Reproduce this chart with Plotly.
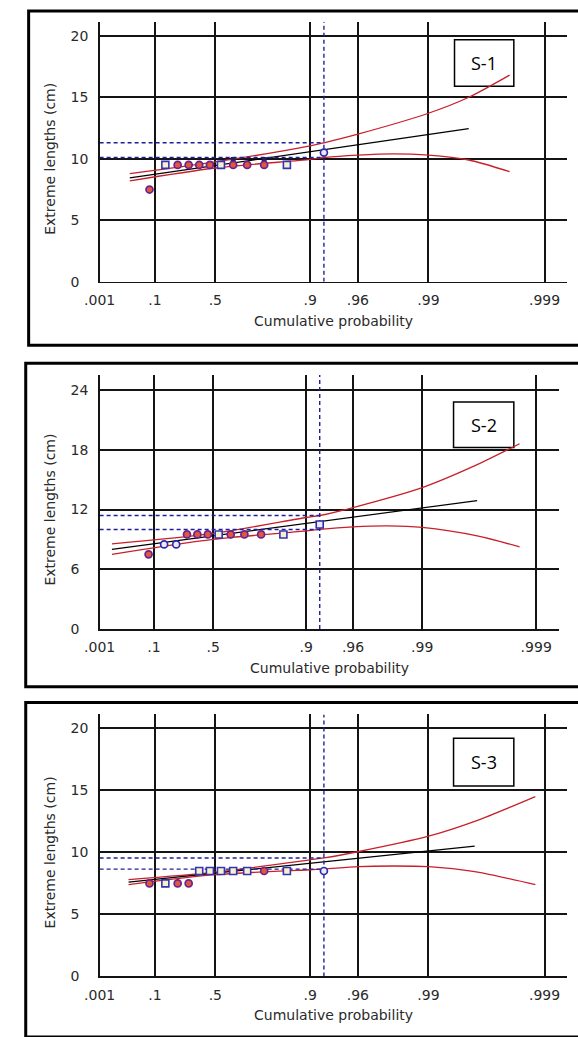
import numpy as np
import plotly.graph_objects as go

W, H = 578, 1037

# ---------------- data ----------------
PROB_TICKS = [0.001, 0.1, 0.5, 0.9, 0.96, 0.99, 0.999]
PROB_LABELS = [".001", ".1", ".5", ".9", ".96", ".99", ".999"]

# plotting positions of the 12 ranked observations
PLOT_POS = [0.077, 0.154, 0.231, 0.308, 0.385, 0.462, 0.538, 0.615, 0.692, 0.769, 0.846, 0.923]

S1_VALUES = [7.5, 9.5, 9.5, 9.5, 9.5, 9.5, 9.5, 9.5, 9.5, 9.5, 9.5, 10.5]
S2_VALUES = [7.5, 8.5, 8.5, 9.5, 9.5, 9.5, 9.5, 9.5, 9.5, 9.5, 9.5, 10.5]
S3_VALUES = [7.5, 7.5, 7.5, 7.5, 8.5, 8.5, 8.5, 8.5, 8.5, 8.5, 8.5, 8.5]

S1_SYMBOLS = ["c", "s", "c", "c", "c", "c", "s", "c", "c", "c", "s", "b"]
S2_SYMBOLS = ["c", "b", "b", "c", "c", "c", "s", "c", "c", "c", "s", "q"]
S3_SYMBOLS = ["c", "s", "c", "c", "s", "s", "s", "s", "s", "c", "s", "b"]

# small dark marks seen on the fitted line in S-1
S1_EXTRA_P = [0.615, 0.769]
S1_EXTRA_V = [9.95, 9.95]

# fitted Gumbel line (end points)
S1_FIT_P = [0.0225, 0.9955]
S1_FIT_V = [8.44, 12.45]
S2_FIT_P = [0.0046, 0.9967]
S2_FIT_V = [8.0, 12.9]
S3_FIT_P = [0.0205, 0.996]
S3_FIT_V = [7.6, 10.5]

# confidence limits
S1_UP_P = [0.0225, 0.5, 0.9, 0.923, 0.96, 0.99, 0.9955, 0.998]
S1_UP_V = [8.8, 9.75, 11.05, 11.3, 12.0, 13.7, 15.0, 16.8]
S1_LO_P = [0.0225, 0.5, 0.9, 0.923, 0.96, 0.98, 0.99, 0.9955, 0.998]
S1_LO_V = [8.2, 9.25, 9.95, 10.1, 10.3, 10.4, 10.3, 9.9, 8.95]

S2_UP_P = [0.0046, 0.5, 0.9, 0.923, 0.96, 0.99, 0.9967, 0.9986]
S2_UP_V = [8.55, 9.6, 11.2, 11.4, 12.2, 14.2, 16.5, 18.6]
S2_LO_P = [0.0046, 0.5, 0.9, 0.923, 0.96, 0.98, 0.99, 0.9967, 0.9986]
S2_LO_V = [7.5, 9.0, 9.85, 10.0, 10.25, 10.35, 10.2, 9.35, 8.25]

S3_UP_P = [0.0205, 0.5, 0.9, 0.923, 0.96, 0.99, 0.996, 0.9988]
S3_UP_V = [7.8, 8.4, 9.4, 9.55, 10.05, 11.3, 12.5, 14.5]
S3_LO_P = [0.0205, 0.5, 0.9, 0.923, 0.96, 0.98, 0.99, 0.996, 0.9988]
S3_LO_V = [7.4, 8.2, 8.6, 8.65, 8.85, 8.9, 8.85, 8.45, 7.4]

# marked return level (dashed guides): probability, lower, upper
S1_MARK = [0.923, 10.1, 11.3]
S2_MARK = [0.923, 10.0, 11.4]
S3_MARK = [0.923, 8.65, 9.55]

S1_YTICKS = [0, 5, 10, 15, 20]
S2_YTICKS = [0, 6, 12, 18, 24]
S3_YTICKS = [0, 5, 10, 15, 20]

LABELS = ["S-1", "S-2", "S-3"]


def gumbel(p):
    p = np.asarray(p, dtype=float)
    return -np.log(-np.log(p))


# ---------------- layout geometry (pixels) ----------------
def px_x(x):
    return x / W


def px_y(y):
    return 1 - y / H


panels = [
    dict(vals=S1_VALUES, sym=S1_SYMBOLS, fitp=S1_FIT_P, fitv=S1_FIT_V,
         upp=S1_UP_P, upv=S1_UP_V, lop=S1_LO_P, lov=S1_LO_V, mark=S1_MARK,
         extra=(S1_EXTRA_P, S1_EXTRA_V),
         yt=S1_YTICKS, ymax=21.13, x0=86, x1=567, ybot=284, ytop=22,
         ytick_top=36, border=(13, 11, 348), box=(451, 40, 512, 87)),
    dict(vals=S2_VALUES, sym=S2_SYMBOLS, fitp=S2_FIT_P, fitv=S2_FIT_V,
         upp=S2_UP_P, upv=S2_UP_V, lop=S2_LO_P, lov=S2_LO_V, mark=S2_MARK,
         extra=None,
         yt=S2_YTICKS, ymax=25.49, x0=86, x1=558, ybot=634, ytop=378,
         ytick_top=393, border=(10, 366, 692), box=(450, 405, 512, 451)),
    dict(vals=S3_VALUES, sym=S3_SYMBOLS, fitp=S3_FIT_P, fitv=S3_FIT_V,
         upp=S3_UP_P, upv=S3_UP_V, lop=S3_LO_P, lov=S3_LO_V, mark=S3_MARK,
         extra=None,
         yt=S3_YTICKS, ymax=21.12, x0=86, x1=567, ybot=984, ytop=720,
         ytick_top=734, border=(10, 708, 1045), box=(450, 744, 512, 792)),
]

XMIN = float(gumbel(0.001))
XMAX = 7.36

FONT = "DejaVu Sans, Verdana, sans-serif"
TXT = "#2a2a2a"
RED = "#c8202a"
NAVY = "#1f1f9a"
GRID = "#141414"

fig = go.Figure()
shapes = []
annotations = []

marker_styles = {
    "c": dict(symbol="circle", color="#e0583a", line=dict(color="#6a2290", width=1.7)),
    "s": dict(symbol="square", color="#f7f0cf", line=dict(color="#3434b0", width=1.6)),
    "b": dict(symbol="circle", color="#ece8f6", line=dict(color="#2c2ca6", width=1.7)),
    "q": dict(symbol="square", color="#ece8f6", line=dict(color="#2c2ca6", width=1.6)),
}

for i, pnl in enumerate(panels):
    k = "" if i == 0 else str(i + 1)
    xa, ya = "x" + k, "y" + k
    # panel border
    bx, by0, by1 = pnl["border"]
    shapes.append(dict(type="rect", xref="paper", yref="paper",
                       x0=px_x(bx), x1=px_x(W + 20), y0=px_y(by1), y1=px_y(by0),
                       line=dict(color="black", width=3), fillcolor="rgba(0,0,0,0)",
                       layer="above"))
    # label box
    b = pnl["box"]
    shapes.append(dict(type="rect", xref="paper", yref="paper",
                       x0=px_x(b[0]), x1=px_x(b[2]), y0=px_y(b[3]), y1=px_y(b[1]),
                       line=dict(color="black", width=1.5), fillcolor="white",
                       layer="below"))
    annotations.append(dict(xref="paper", yref="paper",
                            x=px_x((b[0] + b[2]) / 2), y=px_y((b[1] + b[3]) / 2),
                            text=LABELS[i], showarrow=False,
                            font=dict(family="Open Sans, Noto Sans, sans-serif", size=18, color="black"),
                            xanchor="center", yanchor="middle"))
    # axis titles
    annotations.append(dict(xref="paper", yref="paper",
                            x=px_x((pnl["x0"] + pnl["x1"]) / 2), y=px_y(pnl["ybot"] + 39),
                            text="Cumulative probability", showarrow=False,
                            font=dict(family=FONT, size=14, color=TXT),
                            xanchor="center", yanchor="middle"))
    annotations.append(dict(xref="paper", yref="paper",
                            x=px_x(35), y=px_y((pnl["ybot"] + pnl["ytick_top"]) / 2),
                            text="Extreme lengths (cm)", showarrow=False, textangle=-90,
                            font=dict(family=FONT, size=14, color=TXT),
                            xanchor="center", yanchor="middle"))

    # confidence limits
    for pp, vv in ((pnl["upp"], pnl["upv"]), (pnl["lop"], pnl["lov"])):
        fig.add_trace(go.Scatter(x=gumbel(pp), y=vv, mode="lines", xaxis=xa, yaxis=ya,
                                 line=dict(color=RED, width=1.3, shape="spline", smoothing=0.8),
                                 hoverinfo="skip", showlegend=False))
    # fitted line
    fig.add_trace(go.Scatter(x=gumbel(pnl["fitp"]), y=pnl["fitv"], mode="lines",
                             xaxis=xa, yaxis=ya, line=dict(color="black", width=1.2),
                             hoverinfo="skip", showlegend=False))
    # dashed guides
    mp, mlo, mhi = pnl["mark"]
    gx = float(gumbel(mp))
    fig.add_trace(go.Scatter(x=[gx, gx], y=[0, pnl["ymax"]], mode="lines", xaxis=xa, yaxis=ya,
                             line=dict(color=NAVY, width=1.4, dash="4px,3px"),
                             hoverinfo="skip", showlegend=False))
    for lv in (mlo, mhi):
        fig.add_trace(go.Scatter(x=[XMIN, gx], y=[lv, lv], mode="lines", xaxis=xa, yaxis=ya,
                                 line=dict(color=NAVY, width=1.4, dash="4px,3px"),
                                 hoverinfo="skip", showlegend=False))
    # extra dark marks
    if pnl["extra"] is not None:
        ep, ev = pnl["extra"]
        fig.add_trace(go.Scatter(x=gumbel(ep), y=ev, mode="markers", xaxis=xa, yaxis=ya,
                                 marker=dict(size=5, symbol="square", color="#20205a"),
                                 hoverinfo="skip", showlegend=False))
    # observations
    xs = gumbel(PLOT_POS)
    for key, st in marker_styles.items():
        idx = [j for j, s in enumerate(pnl["sym"]) if s == key]
        if not idx:
            continue
        fig.add_trace(go.Scatter(x=[xs[j] for j in idx], y=[pnl["vals"][j] for j in idx],
                                 mode="markers", xaxis=xa, yaxis=ya,
                                 marker=dict(size=7, symbol=st["symbol"], color=st["color"],
                                             line=st["line"]),
                                 hoverinfo="skip", showlegend=False))

    axis_x = dict(domain=[px_x(pnl["x0"]), px_x(pnl["x1"])], range=[XMIN, XMAX],
                  tickvals=list(gumbel(PROB_TICKS)), ticktext=PROB_LABELS,
                  showgrid=True, gridcolor=GRID, gridwidth=2,
                  showline=True, linecolor=GRID, linewidth=1.5,
                  zeroline=False, ticks="", ticklabelstandoff=5,
                  tickfont=dict(family=FONT, size=14, color=TXT),
                  anchor=ya, fixedrange=True)
    ytext = [str(v) + "\u00a0\u00a0" * (2 - len(str(v))) for v in pnl["yt"]]
    axis_y = dict(domain=[px_y(pnl["ybot"]), px_y(pnl["ytop"])], range=[0, pnl["ymax"]],
                  tickvals=pnl["yt"], ticktext=ytext,
                  showgrid=True, gridcolor=GRID, gridwidth=2,
                  showline=True, linecolor=GRID, linewidth=1.5,
                  zeroline=False, ticks="", ticklabelstandoff=7,
                  tickfont=dict(family=FONT, size=14, color=TXT),
                  anchor=xa, fixedrange=True)
    fig.update_layout(**{"xaxis" + k: axis_x, "yaxis" + k: axis_y})

fig.update_layout(width=W, height=H, autosize=False,
                  margin=dict(l=0, r=0, t=0, b=0, pad=0),
                  paper_bgcolor="white", plot_bgcolor="rgba(0,0,0,0)",
                  shapes=shapes, annotations=annotations, showlegend=False)

fig.write_html("out.html", config=dict(displayModeBar=False, staticPlot=True))
